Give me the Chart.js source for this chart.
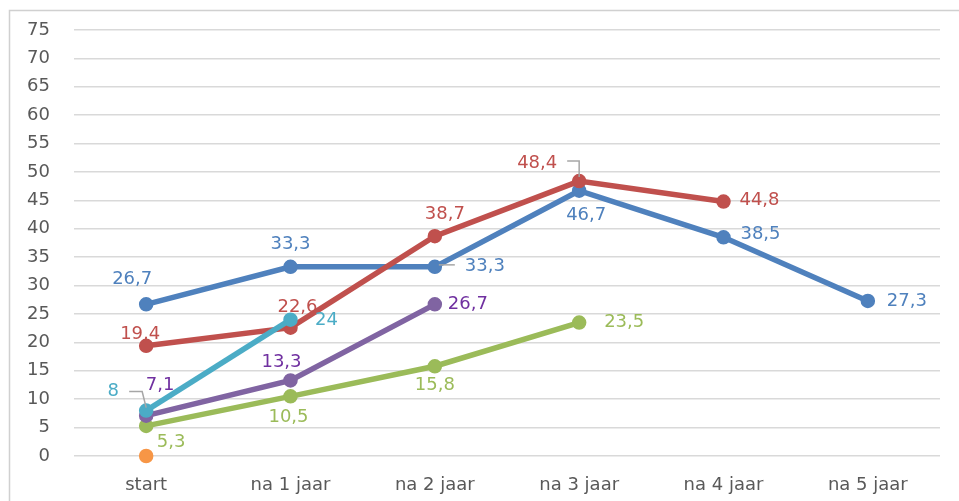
<!DOCTYPE html>
<html>
<head>
<meta charset="utf-8">
<script src="https://cdn.jsdelivr.net/npm/chart.js@4.4.1/dist/chart.umd.min.js"></script>
<style>
  html, body { margin: 0; padding: 0; background: #fff; }
  #wrap { width: 959px; height: 501px; }
</style>
</head>
<body>
<div id="wrap"><canvas id="grafiek" width="959" height="501"></canvas></div>
<script>
const categorieen = ['start', 'na 1 jaar', 'na 2 jaar', 'na 3 jaar', 'na 4 jaar', 'na 5 jaar'];
const yTicks = [0, 5, 10, 15, 20, 25, 30, 35, 40, 45, 50, 55, 60, 65, 70, 75];

const reeksBlauw = [26.7, 33.3, 33.3, 46.7, 38.5, 27.3];
const reeksRood = [19.4, 22.6, 38.7, 48.4, 44.8, null];
const reeksGroen = [5.3, 10.5, 15.8, 23.5, null, null];
const reeksPaars = [7.1, 13.3, 26.7, null, null, null];
const reeksCyaan = [8, 24, null, null, null, null];
const reeksOranje = [0, null, null, null, null, null];

// label offsets (dx, dy from the point), per dataset index
const labelOffsets = {
    blauw: [[-14, -25], [0, -23], [50, -1], [7, 25], [37, -3], [39, 0]],
    rood: [[-6, -11], [7, -20], [10, -22], [-42, -18], [36, -1]],
    groen: [[25, 16], [-2, 21], [0, 19], [45, 0]],
    paars: [[14, -30], [-9, -18], [33, 0]],
    cyaan: [[-33, -19], [36, 1]]
};

// leader lines, relative to point
const leaders = {
    'cyaan-0': [[-17, -19], [-4, -19], [0, -3]],
    'rood-3': [[-12, -20], [0, -20], [0, -4]],
    'blauw-2': [[4, -2], [20, -2]]
};

const FONT = '"DejaVu Sans", sans-serif';

const kaderPlugin = {
    id: 'kader',
    beforeDraw(chart) {
        const ctx = chart.ctx;
        ctx.save();
        ctx.strokeStyle = '#D0D0D0';
        ctx.lineWidth = 1.5;
        ctx.strokeRect(9.5, 10.5, 1100, 1100);
        ctx.restore();
    }
};

const labelPlugin = {
    id: 'waardeLabels',
    afterDatasetsDraw(chart) {
        const ctx = chart.ctx;
        ctx.save();
        ctx.font = '18px ' + FONT;
        ctx.textAlign = 'center';
        ctx.textBaseline = 'middle';
        chart.data.datasets.forEach((ds, i) => {
            const offs = labelOffsets[ds.sleutel];
            if (!offs) return;
            const meta = chart.getDatasetMeta(i);
            meta.data.forEach((pt, j) => {
                const v = ds.data[j];
                if (v === null || !offs[j]) return;
                const lijn = leaders[ds.sleutel + '-' + j];
                if (lijn) {
                    ctx.strokeStyle = '#A6A6A6';
                    ctx.lineWidth = 1.5;
                    ctx.beginPath();
                    lijn.forEach((p, k) => {
                        if (k === 0) ctx.moveTo(pt.x + p[0], pt.y + p[1]);
                        else ctx.lineTo(pt.x + p[0], pt.y + p[1]);
                    });
                    ctx.stroke();
                }
                ctx.fillStyle = ds.labelKleur;
                ctx.fillText(String(v).replace('.', ','), pt.x + offs[j][0], pt.y + offs[j][1]);
            });
        });
        ctx.restore();
    }
};

function reeks(sleutel, data, kleur, labelKleur, volgorde) {
    return {
        sleutel: sleutel,
        data: data,
        borderColor: kleur,
        backgroundColor: kleur,
        pointBackgroundColor: kleur,
        pointBorderColor: kleur,
        labelKleur: labelKleur,
        borderWidth: 5.5,
        pointRadius: 6.5,
        pointBorderWidth: 1.5,
        tension: 0,
        clip: false,
        order: volgorde
    };
}

window.grafiek = new Chart(document.getElementById('grafiek').getContext('2d'), {
    type: 'line',
    data: {
        labels: categorieen,
        datasets: [
            reeks('blauw', reeksBlauw, '#4F81BD', '#4F81BD', 6),
            reeks('rood', reeksRood, '#C0504D', '#C0504D', 5),
            reeks('groen', reeksGroen, '#9BBB59', '#9BBB59', 4),
            reeks('paars', reeksPaars, '#8064A2', '#7030A0', 3),
            reeks('cyaan', reeksCyaan, '#4BACC6', '#4BACC6', 2),
            reeks('oranje', reeksOranje, '#F79646', '#F79646', 1)
        ]
    },
    options: {
        responsive: false,
        animation: false,
        events: [],
        layout: {
            padding: { top: 30, right: 19, left: 0, bottom: 0 }
        },
        plugins: {
            legend: { display: false },
            tooltip: { enabled: false }
        },
        scales: {
            x: {
                offset: true,
                grid: { display: false, drawTicks: false, offset: true },
                border: { display: false },
                ticks: {
                    color: '#595959',
                    font: { family: FONT, size: 18 },
                    padding: 19,
                    maxRotation: 0
                },
                afterFit(scale) { scale.height = 45; }
            },
            y: {
                min: 0,
                max: 75,
                afterBuildTicks(scale) {
                    scale.ticks = yTicks.map(v => ({ value: v }));
                },
                grid: { color: '#D9D9D9', lineWidth: 1.5, drawTicks: false },
                border: { display: false },
                ticks: {
                    color: '#595959',
                    font: { family: FONT, size: 18 },
                    padding: 24
                },
                afterFit(scale) {
                    scale.width = 74;
                    // tick padding would otherwise push the plot area down
                    scale.paddingTop = 0;
                    scale.paddingBottom = 0;
                }
            }
        }
    },
    plugins: [kaderPlugin, labelPlugin]
});
</script>
</body>
</html>
